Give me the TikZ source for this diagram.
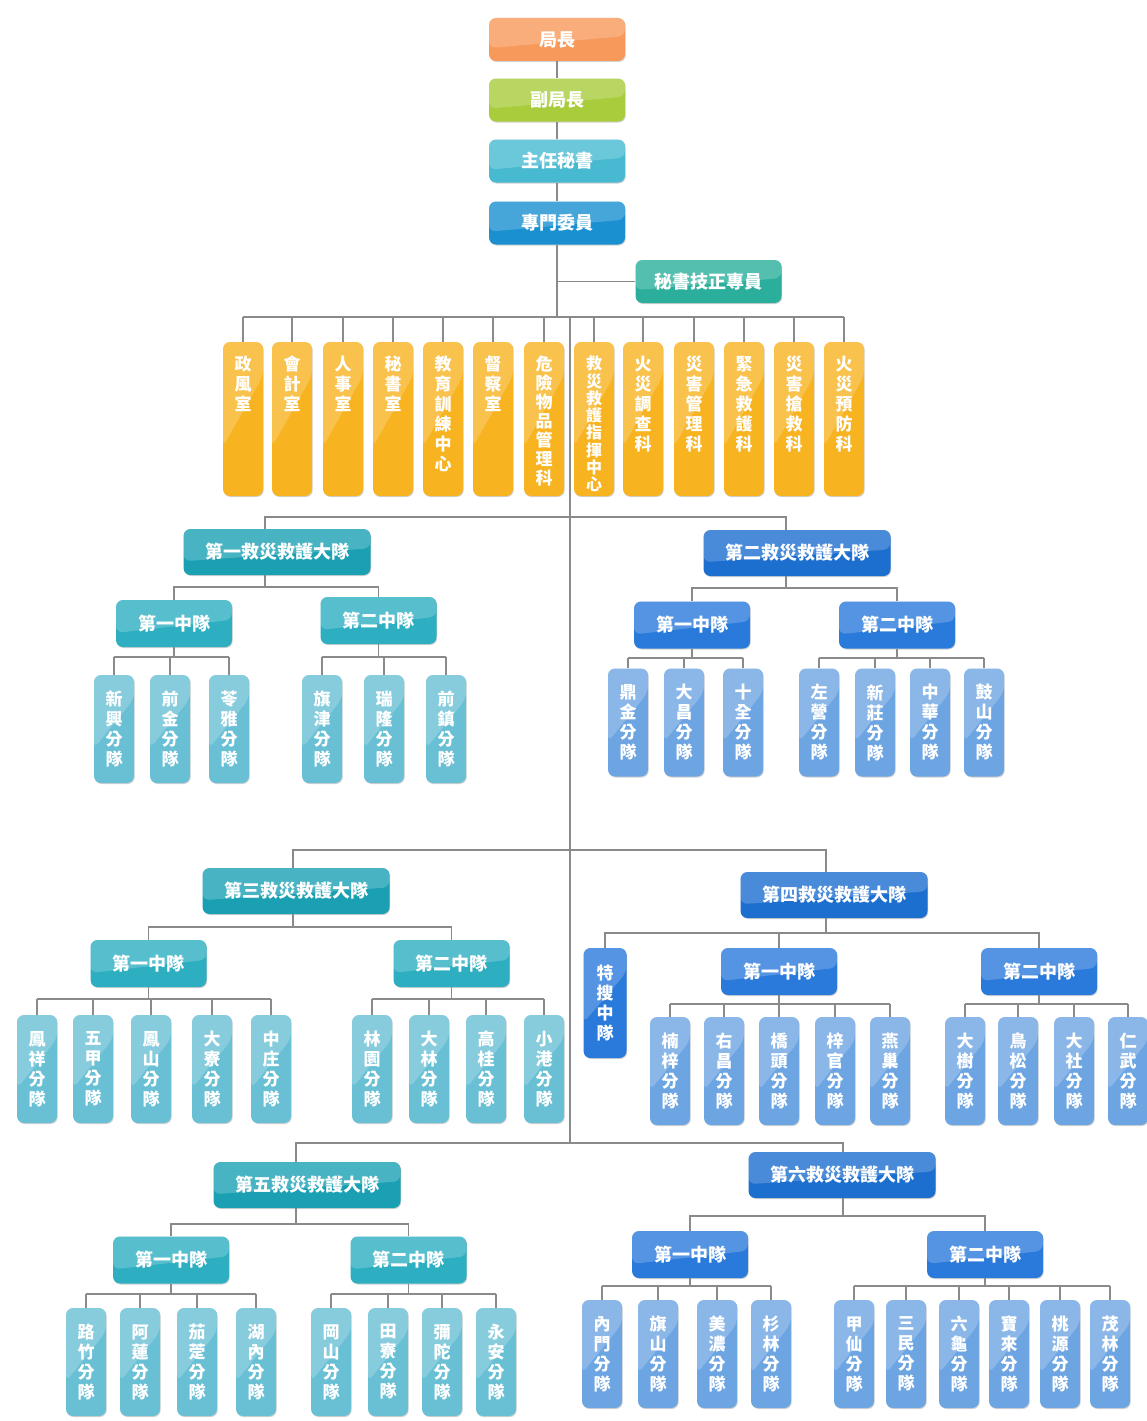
\documentclass[tikz,border=0pt]{standalone}
\usepackage{fontspec}
\newfontfamily\cjk{Noto Sans CJK TC}
\usetikzlibrary{calc,shadows}
\definecolor{cJZ}{HTML}{F7995A}
\definecolor{cFJ}{HTML}{A8CC3C}
\definecolor{cZR}{HTML}{47B9D1}
\definecolor{cZM}{HTML}{1A90D0}
\definecolor{cMS}{HTML}{2BAF9C}
\definecolor{cOR}{HTML}{F8B321}
\definecolor{tBig}{HTML}{1BA0B3}
\definecolor{tMid}{HTML}{2DAEC1}
\definecolor{tLeaf}{HTML}{69C0D5}
\definecolor{bBig}{HTML}{1C6ECF}
\definecolor{bMid}{HTML}{2A7ADB}
\definecolor{bLeaf}{HTML}{6DA5E3}
\definecolor{lineC}{HTML}{8A8A8A}
\newcommand\otext[2][20]{\fontsize{17}{#1}\selectfont\parbox[c][126pt][t]{22pt}{\centering #2}}
\newcommand\leafgroup[7]{%
  \coordinate (#1bar) at (0,#3);
  \draw[conn] (#2.south) -- (#2.south |- #1bar);
  \foreach \lx/\lt [count=\li] in {#7} {%
    \node[leaf,#5] (#1\li) at (\lx,#4) {\lt};
    \draw[conn] (#1\li.north) -- (#1\li.north |- #1bar);
  }
  \draw[conn] (#11.north |- #1bar) -- (#1#6.north |- #1bar);
}
\begin{document}
\begin{tikzpicture}[x=1pt,y=-1pt,
  conn/.style={draw=lineC, line width=1.1pt},
  box/.style={rounded corners=7pt, inner sep=0pt, text=white, align=center,
    font=\cjk\bfseries\fontsize{17}{20}\selectfont,
    drop shadow={shadow xshift=0.7pt,shadow yshift=-1pt,opacity=.18,fill=black}},
  hbig/.style={font=\cjk\bfseries\fontsize{18}{20}\selectfont},
  hgl/.style={path picture={\fill[white,opacity=.2]
    (path picture bounding box.north west) -- (path picture bounding box.north east)
    -- ($(path picture bounding box.north east)!.42!(path picture bounding box.south east)$)
    .. controls ($(path picture bounding box.center)+(0,3)$) ..
    ($(path picture bounding box.north west)!.70!(path picture bounding box.south west)$) -- cycle;}},
  vgl/.style={path picture={\fill[white,opacity=.2]
    (path picture bounding box.north west) -- (path picture bounding box.north east)
    -- ($(path picture bounding box.north east)!.22!(path picture bounding box.south east)$)
    -- ($(path picture bounding box.north west)!.68!(path picture bounding box.south west)$) -- cycle;}},
  topbox/.style={box,hgl,hbig,minimum width=136pt,minimum height=43pt},
  obox/.style={box,vgl,fill=cOR,minimum width=40pt,minimum height=154pt},
  bigbox/.style={box,hgl,hbig,minimum width=187pt,minimum height=46pt},
  midbox/.style={box,hgl,hbig,minimum width=116pt,minimum height=47pt},
  leaf/.style={box,vgl,minimum width=40pt,minimum height=108pt},
  tl/.style={fill=tLeaf}, bl/.style={fill=bLeaf}
]
\useasboundingbox[fill=white] (0,0) rectangle (1146,1421);

% top chain
\node[topbox,fill=cJZ] (jz) at (557,39.5) {局長};
\node[topbox,fill=cFJ] (fj) at (557,100) {副局長};
\node[topbox,fill=cZR] (zr) at (557,161) {主任秘書};
\node[topbox,fill=cZM] (zm) at (557,223) {專門委員};
\node[box,hgl,hbig,fill=cMS,minimum width=146pt,minimum height=43pt] (ms) at (708.5,281.5) {秘書技正專員};
\draw[conn] (jz) -- (fj);
\draw[conn] (fj) -- (zr);
\draw[conn] (zr) -- (zm);
\coordinate (bar) at (0,317);
\draw[conn] (zm.south) -- (zm.south |- bar);
\draw[conn] (ms.west) -- (ms.west -| zm.south);

% orange offices
\node[obox] (o1) at (243,419) {\otext{政\\風\\室}};
\node[obox] (o2) at (292,419) {\otext{會\\計\\室}};
\node[obox] (o3) at (343,419) {\otext{人\\事\\室}};
\node[obox] (o4) at (393,419) {\otext{秘\\書\\室}};
\node[obox] (o5) at (443,419) {\otext{教\\育\\訓\\練\\中\\心}};
\node[obox] (o6) at (493,419) {\otext{督\\察\\室}};
\node[obox] (o7) at (544,419) {\otext[19]{危\\險\\物\\品\\管\\理\\科}};
\node[obox] (o8) at (594,419) {\fontsize{16}{17.3}\selectfont\parbox[c][126pt][t]{22pt}{\centering 救\\災\\救\\護\\指\\揮\\中\\心}};
\node[obox] (o9) at (643,419) {\otext{火\\災\\調\\查\\科}};
\node[obox] (o10) at (694,419) {\otext{災\\害\\管\\理\\科}};
\node[obox] (o11) at (744,419) {\otext{緊\\急\\救\\護\\科}};
\node[obox] (o12) at (794,419) {\otext{災\\害\\搶\\救\\科}};
\node[obox] (o13) at (844,419) {\otext{火\\災\\預\\防\\科}};
\foreach \i in {1,...,13} {\draw[conn] (o\i.north) -- (o\i.north |- bar);}
\draw[conn] (o1.north |- bar) -- (o13.north |- bar);

% trunk
\coordinate (trA) at (570,317);
\coordinate (trB) at (570,1143);
\draw[conn] (trA) -- (trB);

% brigades
\node[bigbox,fill=tBig] (b1) at (277,552) {第一救災救護大隊};
\node[bigbox,fill=bBig] (b2) at (797,553) {第二救災救護大隊};
\node[bigbox,fill=tBig] (b3) at (296,891) {第三救災救護大隊};
\node[bigbox,fill=bBig] (b4) at (834,895) {第四救災救護大隊};
\node[bigbox,fill=tBig] (b5) at (307,1185) {第五救災救護大隊};
\node[bigbox,fill=bBig] (b6) at (842,1175) {第六救災救護大隊};
\coordinate (j12) at (570,517);
\coordinate (j34) at (570,850);
\coordinate (j56) at (570,1143);
\draw[conn] ([xshift=-12pt]b1.north) |- (j12) -| ([xshift=-11pt]b2.north);
\draw[conn] ([xshift=-3pt]b3.north) |- (j34) -| ([xshift=-8pt]b4.north);
\draw[conn] ([xshift=-11pt]b5.north) |- (j56) -| ([xshift=1pt]b6.north);

% squadrons
\node[midbox,fill=tMid] (b1c1) at (174,623.5) {第一中隊};
\node[midbox,fill=tMid] (b1c2) at (378.5,620.5) {第二中隊};
\node[midbox,fill=bMid] (b2c1) at (692,625) {第一中隊};
\node[midbox,fill=bMid] (b2c2) at (897,625) {第二中隊};
\node[midbox,fill=tMid] (b3c1) at (148.5,963.5) {第一中隊};
\node[midbox,fill=tMid] (b3c2) at (451.5,963.5) {第二中隊};
\node[box,vgl,fill=bMid,minimum width=43pt,minimum height=110pt] (ts) at (605,1003) {特\\搜\\中\\隊};
\node[midbox,fill=bMid] (b4c1) at (779,971.5) {第一中隊};
\node[midbox,fill=bMid] (b4c2) at (1039,971.5) {第二中隊};
\node[midbox,fill=tMid] (b5c1) at (171,1260) {第一中隊};
\node[midbox,fill=tMid] (b5c2) at (408.5,1260) {第二中隊};
\node[midbox,fill=bMid] (b6c1) at (690,1254.5) {第一中隊};
\node[midbox,fill=bMid] (b6c2) at (985,1254.5) {第二中隊};

\coordinate (b1m) at (0,587);
\draw[conn] ([xshift=-12pt]b1.south) -- ([xshift=-12pt]b1.south |- b1m);
\draw[conn] (b1c1.north) -- (b1c1.north |- b1m) -- (b1c2.north |- b1m) -- (b1c2.north);
\coordinate (b2m) at (0,588);
\draw[conn] ([xshift=-11pt]b2.south) -- ([xshift=-11pt]b2.south |- b2m);
\draw[conn] (b2c1.north) -- (b2c1.north |- b2m) -- (b2c2.north |- b2m) -- (b2c2.north);
\coordinate (b3m) at (0,927);
\draw[conn] ([xshift=-3pt]b3.south) -- ([xshift=-3pt]b3.south |- b3m);
\draw[conn] (b3c1.north) -- (b3c1.north |- b3m) -- (b3c2.north |- b3m) -- (b3c2.north);
\coordinate (b4m) at (0,933);
\draw[conn] ([xshift=-8pt]b4.south) -- ([xshift=-8pt]b4.south |- b4m);
\draw[conn] (ts.north) -- (ts.north |- b4m) -- (b4c2.north |- b4m) -- (b4c2.north);
\draw[conn] (b4c1.north) -- (b4c1.north |- b4m);
\coordinate (b5m) at (0,1224);
\draw[conn] ([xshift=-11pt]b5.south) -- ([xshift=-11pt]b5.south |- b5m);
\draw[conn] (b5c1.north) -- (b5c1.north |- b5m) -- (b5c2.north |- b5m) -- (b5c2.north);
\coordinate (b6m) at (0,1216);
\draw[conn] ([xshift=1pt]b6.south) -- ([xshift=1pt]b6.south |- b6m);
\draw[conn] (b6c1.north) -- (b6c1.north |- b6m) -- (b6c2.north |- b6m) -- (b6c2.north);

% detachments
\leafgroup{b1a}{b1c1}{657}{729}{tl}{3}{114/{新\\興\\分\\隊},170/{前\\金\\分\\隊},229/{苓\\雅\\分\\隊}}
\leafgroup{b1b}{b1c2}{657}{729}{tl}{3}{322/{旗\\津\\分\\隊},384/{瑞\\隆\\分\\隊},446/{前\\鎮\\分\\隊}}
\leafgroup{b2a}{b2c1}{658}{722.5}{bl}{3}{628/{鼎\\金\\分\\隊},684/{大\\昌\\分\\隊},743/{十\\全\\分\\隊}}
\leafgroup{b2b}{b2c2}{658}{722.5}{bl}{4}{819/{左\\營\\分\\隊},875/{新\\莊\\分\\隊},930/{中\\華\\分\\隊},984/{鼓\\山\\分\\隊}}
\leafgroup{b3a}{b3c1}{999}{1069}{tl}{5}{37/{鳳\\祥\\分\\隊},93/{五\\甲\\分\\隊},151/{鳳\\山\\分\\隊},212/{大\\寮\\分\\隊},271/{中\\庄\\分\\隊}}
\leafgroup{b3b}{b3c2}{999}{1069}{tl}{4}{372/{林\\園\\分\\隊},429/{大\\林\\分\\隊},486/{高\\桂\\分\\隊},544/{小\\港\\分\\隊}}
\leafgroup{b4a}{b4c1}{1004}{1071}{bl}{5}{670/{楠\\梓\\分\\隊},724/{右\\昌\\分\\隊},779/{橋\\頭\\分\\隊},835/{梓\\官\\分\\隊},890/{燕\\巢\\分\\隊}}
\leafgroup{b4b}{b4c2}{1004}{1071}{bl}{4}{965/{大\\樹\\分\\隊},1018/{鳥\\松\\分\\隊},1074/{大\\社\\分\\隊},1128/{仁\\武\\分\\隊}}
\leafgroup{b5a}{b5c1}{1294}{1362}{tl}{4}{86/{路\\竹\\分\\隊},140/{阿\\蓮\\分\\隊},197/{茄\\萣\\分\\隊},256/{湖\\內\\分\\隊}}
\leafgroup{b5b}{b5c2}{1294}{1362}{tl}{4}{331/{岡\\山\\分\\隊},388/{田\\寮\\分\\隊},442/{彌\\陀\\分\\隊},496/{永\\安\\分\\隊}}
\leafgroup{b6a}{b6c1}{1286}{1354}{bl}{4}{602/{內\\門\\分\\隊},658/{旗\\山\\分\\隊},717/{美\\濃\\分\\隊},771/{杉\\林\\分\\隊}}
\leafgroup{b6b}{b6c2}{1286}{1354}{bl}{6}{854/{甲\\仙\\分\\隊},906/{三\\民\\分\\隊},959/{六\\龜\\分\\隊},1009/{寶\\來\\分\\隊},1060/{桃\\源\\分\\隊},1110/{茂\\林\\分\\隊}}
\end{tikzpicture}
\end{document}
